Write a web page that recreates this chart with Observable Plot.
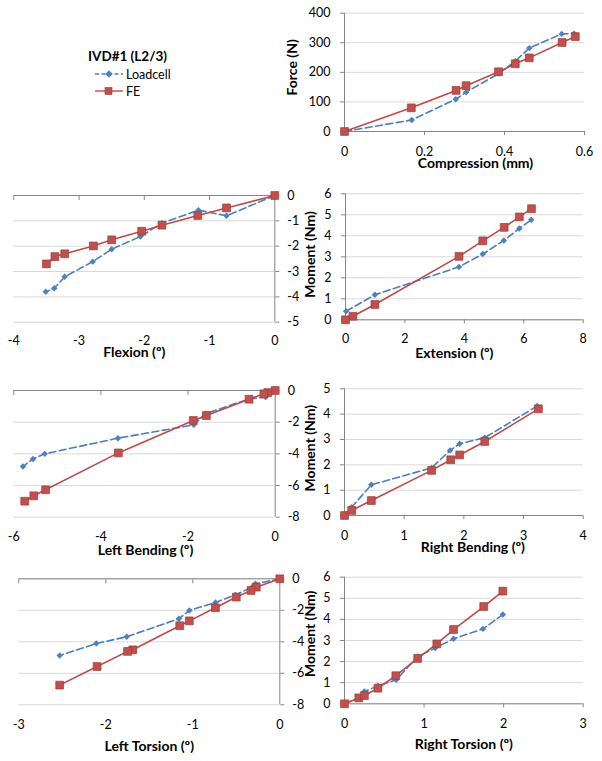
<!DOCTYPE html>
<html><head><meta charset="utf-8">
<script src="https://cdn.jsdelivr.net/npm/d3@7"></script>
<script src="https://cdn.jsdelivr.net/npm/@observablehq/plot@0.6"></script>
<style>
html,body{margin:0;padding:0;background:#fff;}
#chart{position:relative;width:602px;height:761px;overflow:hidden;font-family:Lato,"Open Sans",sans-serif;color:#000;}
#chart svg.layer{position:absolute;left:0;top:0;pointer-events:none;}
#legend{position:absolute;left:0;top:0;}
.lg-title{position:absolute;left:88px;top:48px;font-weight:bold;font-size:13.5px;white-space:nowrap;}
.lg-row{position:absolute;left:95px;height:16px;display:flex;align-items:center;font-size:12.5px;white-space:nowrap;}
.lg-row svg{margin-right:3px;}
</style></head><body><div id="chart"><div id="legend"></div></div>
<script>
// ---- series names / labels ----
const seriesNames = ["Loadcell", "FE"];
const legendTitle = "IVD#1 (L2/3)";

// ---- Compression ----
const compLoadX = [0, 0.168, 0.278, 0.304, 0.387, 0.427, 0.462, 0.543, 0.574];
const compLoadY = [0, 39, 109, 133, 197, 238, 282, 330, 331];
const compFeX = [0, 0.167, 0.279, 0.304, 0.385, 0.427, 0.462, 0.544, 0.577];
const compFeY = [0, 80, 139, 155, 202, 229, 249, 301, 321];
const compXTicks = [0, 0.2, 0.4, 0.6];
const compYTicks = [0, 100, 200, 300, 400];

// ---- Flexion ----
const flexLoadX = [0, -0.74, -1.17, -1.73, -2.06, -2.50, -2.79, -3.22, -3.38, -3.51];
const flexLoadY = [0, -0.80, -0.58, -1.09, -1.62, -2.12, -2.61, -3.21, -3.66, -3.80];
const flexFeX = [0, -0.74, -1.18, -1.73, -2.04, -2.50, -2.78, -3.22, -3.37, -3.50];
const flexFeY = [0, -0.49, -0.79, -1.17, -1.41, -1.75, -1.99, -2.30, -2.41, -2.70];
const flexXTicks = [-4, -3, -2, -1, 0];
const flexYTicks = [0, -1, -2, -3, -4, -5];

// ---- Extension ----
const extLoadX = [0.02, 0.99, 3.82, 4.62, 5.33, 5.85, 6.25];
const extLoadY = [0.41, 1.19, 2.52, 3.13, 3.78, 4.35, 4.76];
const extFeX = [0, 0.25, 0.99, 3.82, 4.62, 5.34, 5.85, 6.26];
const extFeY = [0, 0.17, 0.73, 3.02, 3.76, 4.40, 4.90, 5.29];
const extXTicks = [0, 2, 4, 6, 8];
const extYTicks = [0, 1, 2, 3, 4, 5, 6];

// ---- Left Bending ----
const lbLoadX = [0, -0.22, -0.60, -1.60, -1.87, -3.61, -5.29, -5.56, -5.79];
const lbLoadY = [0, -0.42, -0.53, -1.47, -2.17, -3.01, -4.00, -4.32, -4.80];
const lbFeX = [0, -0.17, -0.26, -0.60, -1.58, -1.88, -3.60, -5.27, -5.54, -5.75];
const lbFeY = [0, -0.13, -0.21, -0.55, -1.58, -1.89, -3.94, -6.27, -6.65, -6.99];
const lbXTicks = [-6, -4, -2, 0];
const lbYTicks = [0, -2, -4, -6, -8];

// ---- Right Bending ----
const rbLoadX = [0, 0.12, 0.45, 1.46, 1.77, 1.93, 2.35, 3.23];
const rbLoadY = [0, 0.33, 1.21, 1.88, 2.57, 2.83, 3.07, 4.32];
const rbFeX = [0, 0.12, 0.45, 1.46, 1.78, 1.93, 2.35, 3.25];
const rbFeY = [0, 0.20, 0.59, 1.78, 2.20, 2.39, 2.92, 4.21];
const rbXTicks = [0, 1, 2, 3, 4];
const rbYTicks = [0, 1, 2, 3, 4, 5];

// ---- Left Torsion ----
const ltLoadX = [0, -0.28, -0.32, -0.51, -0.74, -1.04, -1.16, -1.76, -2.11, -2.53];
const ltLoadY = [0, -0.32, -0.53, -1.02, -1.50, -2.01, -2.54, -3.68, -4.11, -4.87];
const ltFeX = [0, -0.27, -0.33, -0.50, -0.74, -1.04, -1.15, -1.69, -1.75, -2.10, -2.53];
const ltFeY = [0, -0.53, -0.74, -1.16, -1.84, -2.67, -2.98, -4.51, -4.61, -5.57, -6.75];
const ltXTicks = [-3, -2, -1, 0];
const ltYTicks = [0, -2, -4, -6, -8];

// ---- Right Torsion ----
const rtLoadX = [0, 0.18, 0.25, 0.42, 0.65, 0.92, 1.14, 1.37, 1.74, 1.99];
const rtLoadY = [0, 0.28, 0.58, 0.85, 1.14, 2.24, 2.64, 3.08, 3.55, 4.23];
const rtFeX = [0, 0.18, 0.25, 0.42, 0.645, 0.92, 1.16, 1.37, 1.75, 1.99];
const rtFeY = [0, 0.28, 0.39, 0.74, 1.33, 2.15, 2.84, 3.52, 4.61, 5.34];
const rtXTicks = [0, 1, 2, 3];
const rtYTicks = [0, 1, 2, 3, 4, 5, 6];

// ---- styles ----
const BLUE_LINE = "#4A7EBB", BLUE = "#4F81BD";
const RED_LINE = "#BE4B48", RED = "#C0504D", RED_EDGE = "#9E3B38";
const AXIS = "#868686", GRID = "#d9d9d9";
const W = 602, H = 761;
const TICK_FS = 12.5, TITLE_FS = 14;
const fmt = d => String(d);

const panels = [
  {lx: compLoadX, ly: compLoadY, fx: compFeX, fy: compFeY, xt: compXTicks, yt: compYTicks,
   xd: [0, 0.6], yd: [0, 400], frame: [344, 584, 12.7, 131], side: "right",
   xlab: "Compression (mm)", ylab: "Force (N)", tdx: 11, tdy: 32, ldx: -51.5, ldy: -5, xpad: 10.5},
  {lx: flexLoadX, ly: flexLoadY, fx: flexFeX, fy: flexFeY, xt: flexXTicks, yt: flexYTicks,
   xd: [-4, 0], yd: [-5, 0], frame: [13.3, 274.3, 195, 321.7], side: "left",
   xlab: "Flexion (º)", tdx: -10, tdy: 30.5, xpad: 13.8},
  {lx: extLoadX, ly: extLoadY, fx: extFeX, fy: extFeY, xt: extXTicks, yt: extYTicks,
   xd: [0, 8], yd: [0, 6], frame: [345, 582.7, 193.3, 319.3], side: "right",
   xlab: "Extension (º)", ylab: "Moment (Nm)", tdx: -10, tdy: 33.5, ldx: -34.7, ldy: -2.3, xpad: 9.5},
  {lx: lbLoadX, ly: lbLoadY, fx: lbFeX, fy: lbFeY, xt: lbXTicks, yt: lbYTicks,
   xd: [-6, 0], yd: [-8, 0], frame: [13.3, 274.7, 390, 516.7], side: "left",
   xlab: "Left Bending (º)", tdx: 1, tdy: 33, xpad: 15},
  {lx: rbLoadX, ly: rbLoadY, fx: rbFeX, fy: rbFeY, xt: rbXTicks, yt: rbYTicks,
   xd: [0, 4], yd: [0, 5], frame: [344, 582.7, 388.3, 515], side: "right",
   xlab: "Right Bending (º)", ylab: "Moment (Nm)", tdx: 9, tdy: 32, ldx: -33.5, ldy: -4, xpad: 10.5},
  {lx: ltLoadX, ly: ltLoadY, fx: ltFeX, fy: ltFeY, xt: ltXTicks, yt: ltYTicks,
   xd: [-3, 0], yd: [-8, 0], frame: [18.3, 279.3, 578.3, 704.3], side: "left",
   xlab: "Left Torsion (º)", tdx: 0, tdy: 42, xpad: 15},
  {lx: rtLoadX, ly: rtLoadY, fx: rtFeX, fy: rtFeY, xt: rtXTicks, yt: rtYTicks,
   xd: [0, 3], yd: [0, 6], frame: [344, 582.7, 576.7, 703.3], side: "right",
   xlab: "Right Torsion (º)", ylab: "Moment (Nm)", tdx: 0, tdy: 41, ldx: -33.5, ldy: -6.7, xpad: 10.5}
];

const chart = document.getElementById("chart");

for (const p of panels) {
  const load = p.lx.map((x, i) => ({x, y: p.ly[i]}));
  const fe = p.fx.map((x, i) => ({x, y: p.fy[i]}));
  const [x0, x1, y0, y1] = p.frame;
  const marks = [
    Plot.gridY(p.yt, {stroke: GRID, strokeOpacity: 1, strokeWidth: 1}),
    Plot.ruleY([0], {stroke: AXIS, strokeWidth: 1}),
    Plot.ruleX([0], {stroke: AXIS, strokeWidth: 1})
  ];
  if (p.side === "right") {
    marks.push(
      Plot.axisX(p.xt, {anchor: "bottom", tickSize: 4, tickPadding: p.xpad - 4 + 5, stroke: AXIS, fill: "#000", tickFormat: fmt, label: null, fontSize: TICK_FS}),
      Plot.axisY(p.yt, {anchor: "left", tickSize: 4, tickPadding: 10, stroke: AXIS, fill: "#000", tickFormat: fmt, label: null, fontSize: TICK_FS})
    );
  } else {
    marks.push(
      Plot.axisX(p.xt, {anchor: "top", tickSize: -4, stroke: AXIS, tickFormat: () => "", label: null}),
      Plot.axisX(p.xt, {anchor: "bottom", tickSize: 0, tickPadding: p.xpad, fill: "#000", tickFormat: fmt, label: null, fontSize: TICK_FS}),
      Plot.axisY(p.yt, {anchor: "right", tickSize: 4, tickPadding: 8.5, stroke: AXIS, fill: "#000", tickFormat: fmt, label: null, fontSize: TICK_FS})
    );
  }
  marks.push(
    Plot.line(load, {x: "x", y: "y", stroke: BLUE_LINE, strokeWidth: 1.6, strokeDasharray: "7,3.5"}),
    Plot.dot(load, {x: "x", y: "y", symbol: "diamond2", r: 2.9, fill: BLUE}),
    Plot.line(fe, {x: "x", y: "y", stroke: RED_LINE, strokeWidth: 1.6}),
    Plot.dot(fe, {x: "x", y: "y", symbol: "square", r: 4.4, fill: RED, stroke: RED_EDGE, strokeWidth: 0.7}),
    Plot.text([p.xlab], {frameAnchor: "bottom", textAnchor: "middle", lineAnchor: "middle", dx: p.tdx, dy: p.tdy, text: d => d, fontWeight: "bold", fontSize: TITLE_FS, fill: "#000"})
  );
  if (p.ylab) {
    marks.push(Plot.text([p.ylab], {frameAnchor: "left", textAnchor: "middle", lineAnchor: "middle", rotate: -90, dx: p.ldx, dy: p.ldy, text: d => d, fontWeight: "bold", fontSize: TITLE_FS, fill: "#000"}));
  }
  const svg = Plot.plot({
    width: W, height: H,
    marginLeft: x0, marginRight: W - x1, marginTop: y0, marginBottom: H - y1,
    x: {domain: p.xd}, y: {domain: p.yd},
    style: {fontFamily: "Lato, 'Open Sans', sans-serif", fontSize: "13px", color: "#000", background: "transparent", overflow: "visible", maxWidth: "none"},
    marks
  });
  svg.classList.add("layer");
  chart.appendChild(svg);
}

// ---- legend ----
const legend = document.getElementById("legend");
const t = document.createElement("div");
t.className = "lg-title";
t.textContent = legendTitle;
legend.appendChild(t);
const swatches = [
  `<svg width="28" height="10"><line x1="0" y1="5" x2="28" y2="5" stroke="${BLUE_LINE}" stroke-width="1.4" stroke-dasharray="4,2.5"/><path d="M14,1.2L17.8,5L14,8.8L10.2,5Z" fill="${BLUE}"/></svg>`,
  `<svg width="28" height="10"><line x1="0" y1="5" x2="28" y2="5" stroke="${RED_LINE}" stroke-width="1.4"/><rect x="10" y="1.5" width="7" height="7" fill="${RED}" stroke="${RED_EDGE}" stroke-width="0.6"/></svg>`
];
const rowTops = [66, 83];
seriesNames.forEach((name, i) => {
  const r = document.createElement("div");
  r.className = "lg-row";
  r.style.top = rowTops[i] + "px";
  r.innerHTML = swatches[i] + `<span>${name}</span>`;
  legend.appendChild(r);
});
</script></body></html>
